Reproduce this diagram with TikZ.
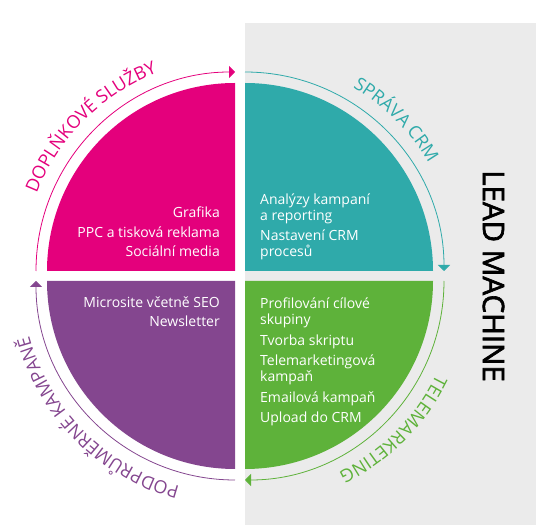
\documentclass[tikz,border=0pt]{standalone}
\usepackage{fontspec}
\setmainfont{Open Sans}
\newfontfamily\leadfont{Open Sans}[FakeBold=2.2]
\usepackage{xcolor}
\usetikzlibrary{arrows.meta, decorations.text}

\definecolor{crmpink}{HTML}{E4007C}
\definecolor{crmteal}{HTML}{2FAAAA}
\definecolor{crmgreen}{HTML}{5EB23A}
\definecolor{crmpurple}{HTML}{84468F}
\definecolor{crmgray}{HTML}{EBEBEB}
\newcommand{\arcfont}{\fontsize{18}{20}\selectfont}

\tikzset{
  qtext/.style={text=white, font=\fontsize{14}{16}\selectfont, inner sep=0pt},
  cyclearc/.style={line width=0.8pt, -{Triangle[length=6pt,width=12pt]}},
  arclabel/.style={decorate, decoration={text along path, text align=center, text={#1}}}
}

\begin{document}
\begin{tikzpicture}[x=1pt,y=1pt]
\useasboundingbox (0,0) rectangle (536,525);
% grey panel behind the right half
\fill[crmgray] (245,0) rectangle (536,502);

% four quarter discs and the arrows round them
\foreach \col/\cx/\cy/\sa in {crmpink/235/254/90, crmteal/245/254/0, crmgreen/245/244/270, crmpurple/235/244/180} {
  \pgfmathsetmacro{\ea}{\sa+90}
  \fill[\col] (\cx,\cy) -- ++(\sa:188) arc[start angle=\sa, end angle=\ea, radius=188] -- cycle;
  \draw[cyclearc, \col] (\cx,\cy) ++(\ea:199) arc[start angle=\ea, end angle=\sa, radius=199];
}

% curved labels
\path[arclabel={|\arcfont\color{crmpink}|DOPLŇKOVÉ SLUŽBY}] (235,254) ++(180:213) arc[start angle=180, end angle=90, radius=213];
\path[arclabel={|\arcfont\color{crmteal}|SPRÁVA CRM}] (245,254) ++(90:213) arc[start angle=90, end angle=0, radius=213];
\path[arclabel={|\arcfont\color{crmgreen}|TELEMARKETING}] (245,244) ++(0:213) arc[start angle=0, end angle=-90, radius=213];
\path[arclabel={|\arcfont\color{crmpurple}|PODPRŮMĚRNÉ KAMPANĚ}] (235,244) ++(270:213) arc[start angle=270, end angle=180, radius=213];

% texts in the quarters (base = last line)
\node[qtext, anchor=base east, align=right] (sluzby) at (220,268)
  {Grafika\\[3.5pt]PPC a tisková reklama\\[3.5pt]Sociální media};
\node[qtext, anchor=base west, align=left] (crm) at (260,268)
  {Analýzy kampaní\\a reporting\\[4pt]Nastavení CRM\\procesů};
\node[qtext, anchor=base west, align=left] (tele) at (260,102)
  {Profilování cílové\\skupiny\\[4.5pt]Tvorba skriptu\\[4.5pt]Telemarketingová\\kampaň\\[4.5pt]Emailová kampaň\\[4.5pt]Upload do CRM};
\node[qtext, anchor=base east, align=right] (kampane) at (220,198)
  {Microsite včetně SEO\\[3pt]Newsletter};

\node[rotate=-90, font=\fontsize{29.5}{31}\leadfont] (leadmachine) at (493.5,249) {LEAD MACHINE};
\end{tikzpicture}
\end{document}
